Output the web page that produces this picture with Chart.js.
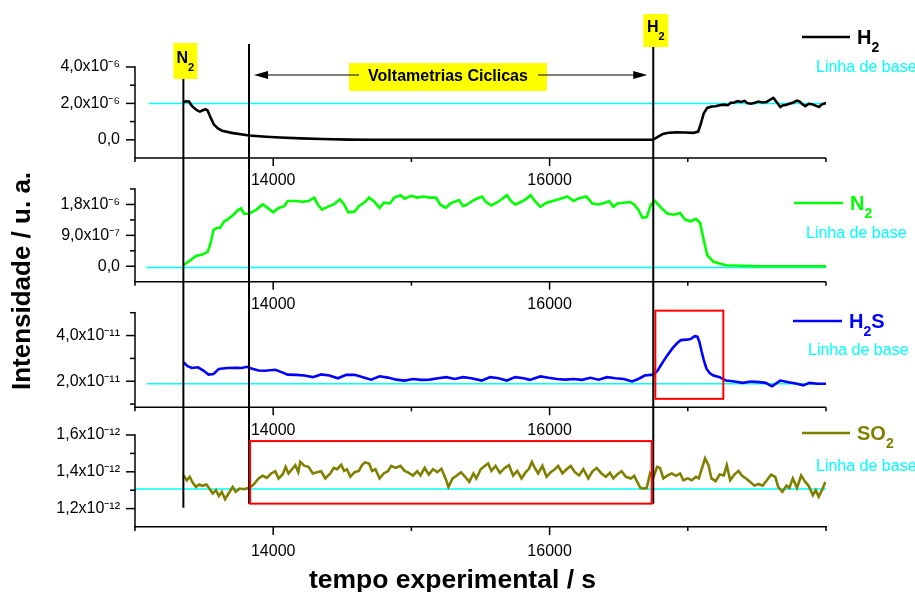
<!DOCTYPE html>
<html>
<head>
<meta charset="utf-8">
<script src="https://cdn.jsdelivr.net/npm/chart.js@4.4.0/dist/chart.umd.min.js"></script>
<style>
html,body{margin:0;padding:0;background:#ffffff;}
#wrap{width:915px;height:592px;position:relative;}
canvas{display:block;}
</style>
</head>
<body>
<div id="wrap"><canvas id="c" width="915" height="592"></canvas></div>
<script>
const FONT = '"Liberation Sans", Arial, Helvetica, sans-serif';

// ---------------- data ----------------
const h2Time = [13350,13370,13390,13410,13435,13450,13470,13490,13510,13525,13545,13570,13600,13630,13700,13825,13950,14050,14200,14350,14550,14700,15200,15700,16200,16748,16780,16820,16860,16920,16980,17040,17075,17095,17115,17140,17172,17200,17230,17260,17290,17310,17335,17360,17385,17410,17430,17455,17480,17510,17540,17570,17600,17620,17645,17670,17690,17710,17735,17760,17790,17810,17830,17850,17875,17900,17925,17950,17970,18000];
const h2Signal = [2.08e-6,2.12e-6,2.10e-6,1.88e-6,1.70e-6,1.62e-6,1.55e-6,1.62e-6,1.68e-6,1.62e-6,1.25e-6,0.85e-6,0.62e-6,0.50e-6,0.38e-6,0.24e-6,0.17e-6,0.13e-6,0.08e-6,0.04e-6,0.01e-6,0,0,0,0,0,0.15e-6,0.32e-6,0.39e-6,0.41e-6,0.40e-6,0.38e-6,0.45e-6,0.90e-6,1.45e-6,1.75e-6,1.83e-6,1.84e-6,1.90e-6,1.93e-6,1.90e-6,2.03e-6,2.05e-6,2.12e-6,2.08e-6,2.14e-6,2.02e-6,1.98e-6,2.02e-6,2.10e-6,2.05e-6,2.08e-6,2.22e-6,2.30e-6,2.05e-6,1.80e-6,1.90e-6,1.92e-6,1.98e-6,2.04e-6,2.15e-6,2.10e-6,1.95e-6,1.85e-6,1.98e-6,1.95e-6,1.88e-6,1.80e-6,1.95e-6,2.02e-6];

const n2Time = [13350,13396,13441,13486,13526,13547,13568,13592,13616,13646,13668,13713,13743,13767,13788,13825,13879,13924,13960,14000,14039,14081,14105,14166,14211,14256,14296,14323,14353,14392,14438,14483,14513,14543,14589,14619,14664,14694,14734,14770,14800,14845,14876,14921,14951,14996,15042,15087,15132,15178,15208,15247,15283,15344,15374,15404,15440,15464,15510,15540,15579,15615,15646,15691,15721,15751,15782,15827,15863,15893,15933,15978,16023,16068,16129,16174,16204,16265,16310,16355,16401,16431,16461,16491,16537,16582,16612,16642,16672,16703,16733,16763,16808,16854,16899,16944,16980,17020,17059,17089,17110,17141,17186,17276,17518,18000];
const n2Signal = [0.03e-6,0.16e-6,0.30e-6,0.34e-6,0.42e-6,0.67e-6,1.06e-6,1.11e-6,1.12e-6,1.31e-6,1.36e-6,1.50e-6,1.63e-6,1.69e-6,1.53e-6,1.53e-6,1.65e-6,1.80e-6,1.70e-6,1.57e-6,1.70e-6,1.75e-6,1.90e-6,1.90e-6,1.88e-6,1.90e-6,2.00e-6,1.80e-6,1.65e-6,1.73e-6,1.80e-6,1.95e-6,1.80e-6,1.57e-6,1.59e-6,1.75e-6,1.87e-6,2.00e-6,1.87e-6,1.70e-6,1.85e-6,1.83e-6,2.00e-6,2.07e-6,1.97e-6,2.05e-6,2.00e-6,2.03e-6,2.00e-6,2.00e-6,1.80e-6,1.70e-6,1.83e-6,1.93e-6,1.75e-6,1.80e-6,1.90e-6,1.95e-6,2.03e-6,1.87e-6,1.77e-6,1.85e-6,1.93e-6,2.07e-6,1.90e-6,1.80e-6,1.85e-6,1.95e-6,2.07e-6,1.90e-6,1.73e-6,1.85e-6,1.90e-6,1.95e-6,2.03e-6,1.90e-6,1.97e-6,2.03e-6,1.83e-6,1.80e-6,1.85e-6,1.90e-6,1.73e-6,1.83e-6,1.85e-6,1.87e-6,1.80e-6,1.65e-6,1.41e-6,1.43e-6,1.80e-6,1.90e-6,1.70e-6,1.53e-6,1.50e-6,1.55e-6,1.36e-6,1.31e-6,1.38e-6,1.26e-6,0.86e-6,0.32e-6,0.13e-6,0.03e-6,0,0];

const h2sTime = [13350,13381,13411,13456,13495,13532,13568,13607,13668,13728,13773,13809,13849,13894,13939,14015,14060,14105,14166,14226,14287,14347,14407,14468,14528,14589,14649,14709,14770,14830,14891,14951,15011,15072,15132,15193,15253,15313,15374,15434,15510,15570,15631,15691,15751,15812,15857,15933,15993,16053,16114,16174,16235,16295,16355,16416,16476,16537,16597,16642,16688,16748,16780,16810,16850,16890,16920,16950,16990,17020,17050,17070,17085,17100,17115,17135,17160,17186,17231,17276,17337,17397,17458,17518,17563,17609,17669,17729,17790,17835,17880,17941,18000];
const h2sSignal = [2.83e-11,2.66e-11,2.58e-11,2.61e-11,2.47e-11,2.29e-11,2.32e-11,2.54e-11,2.58e-11,2.59e-11,2.58e-11,2.63e-11,2.55e-11,2.47e-11,2.46e-11,2.50e-11,2.40e-11,2.29e-11,2.28e-11,2.25e-11,2.18e-11,2.30e-11,2.25e-11,2.13e-11,2.28e-11,2.28e-11,2.18e-11,2.07e-11,2.22e-11,2.16e-11,2.07e-11,2.03e-11,2.10e-11,2.06e-11,2.07e-11,2.13e-11,2.18e-11,2.10e-11,2.18e-11,2.13e-11,2.03e-11,2.18e-11,2.13e-11,2.03e-11,2.18e-11,2.13e-11,2.06e-11,2.21e-11,2.15e-11,2.10e-11,2.07e-11,2.10e-11,2.06e-11,2.15e-11,2.07e-11,2.18e-11,2.13e-11,2.10e-11,1.99e-11,2.10e-11,2.25e-11,2.29e-11,2.45e-11,2.75e-11,3.12e-11,3.45e-11,3.65e-11,3.80e-11,3.82e-11,3.85e-11,3.97e-11,3.95e-11,3.70e-11,3.30e-11,2.95e-11,2.55e-11,2.35e-11,2.25e-11,2.18e-11,2.03e-11,1.99e-11,1.93e-11,1.99e-11,1.96e-11,1.93e-11,1.78e-11,2.03e-11,1.96e-11,1.89e-11,1.82e-11,1.93e-11,1.89e-11,1.89e-11];

const so2Time = [13350,13375,13396,13417,13441,13465,13486,13517,13538,13562,13586,13607,13628,13652,13677,13707,13728,13758,13788,13825,13858,13894,13924,13954,13985,14015,14039,14069,14090,14111,14136,14160,14181,14196,14226,14256,14287,14317,14347,14377,14413,14438,14462,14492,14513,14534,14558,14589,14619,14643,14664,14694,14715,14740,14770,14800,14830,14854,14885,14921,14951,14981,15011,15042,15066,15096,15126,15156,15187,15217,15247,15268,15298,15329,15359,15389,15419,15449,15470,15501,15531,15555,15579,15609,15640,15676,15706,15736,15766,15797,15827,15851,15872,15893,15917,15948,15978,16008,16038,16062,16093,16123,16153,16183,16213,16244,16280,16310,16340,16376,16407,16437,16461,16491,16521,16552,16588,16612,16636,16657,16678,16703,16727,16748,16778,16799,16823,16854,16884,16914,16944,16968,16999,17029,17059,17080,17101,17125,17150,17171,17201,17231,17261,17282,17307,17337,17367,17391,17421,17452,17482,17512,17542,17572,17603,17633,17654,17684,17714,17735,17760,17790,17820,17850,17874,17905,17926,17947,17971,17995];
const so2Signal = [1.382e-12,1.354e-12,1.373e-12,1.342e-12,1.318e-12,1.331e-12,1.324e-12,1.331e-12,1.309e-12,1.282e-12,1.300e-12,1.269e-12,1.291e-12,1.251e-12,1.282e-12,1.318e-12,1.291e-12,1.309e-12,1.305e-12,1.313e-12,1.331e-12,1.364e-12,1.378e-12,1.367e-12,1.391e-12,1.403e-12,1.364e-12,1.387e-12,1.427e-12,1.391e-12,1.414e-12,1.436e-12,1.398e-12,1.454e-12,1.432e-12,1.427e-12,1.391e-12,1.398e-12,1.403e-12,1.364e-12,1.391e-12,1.421e-12,1.414e-12,1.438e-12,1.405e-12,1.414e-12,1.373e-12,1.398e-12,1.405e-12,1.436e-12,1.451e-12,1.445e-12,1.405e-12,1.414e-12,1.364e-12,1.391e-12,1.403e-12,1.432e-12,1.421e-12,1.432e-12,1.405e-12,1.394e-12,1.380e-12,1.403e-12,1.380e-12,1.421e-12,1.385e-12,1.414e-12,1.398e-12,1.416e-12,1.364e-12,1.318e-12,1.364e-12,1.380e-12,1.398e-12,1.373e-12,1.345e-12,1.391e-12,1.364e-12,1.414e-12,1.432e-12,1.445e-12,1.405e-12,1.432e-12,1.394e-12,1.421e-12,1.436e-12,1.380e-12,1.405e-12,1.364e-12,1.398e-12,1.416e-12,1.454e-12,1.421e-12,1.391e-12,1.432e-12,1.373e-12,1.398e-12,1.414e-12,1.432e-12,1.391e-12,1.414e-12,1.432e-12,1.398e-12,1.380e-12,1.414e-12,1.364e-12,1.403e-12,1.421e-12,1.391e-12,1.373e-12,1.394e-12,1.364e-12,1.387e-12,1.403e-12,1.373e-12,1.364e-12,1.378e-12,1.342e-12,1.313e-12,1.309e-12,1.313e-12,1.391e-12,1.364e-12,1.427e-12,1.421e-12,1.364e-12,1.380e-12,1.391e-12,1.378e-12,1.391e-12,1.354e-12,1.364e-12,1.354e-12,1.373e-12,1.364e-12,1.416e-12,1.473e-12,1.436e-12,1.364e-12,1.349e-12,1.385e-12,1.380e-12,1.436e-12,1.354e-12,1.385e-12,1.405e-12,1.380e-12,1.364e-12,1.345e-12,1.325e-12,1.334e-12,1.325e-12,1.354e-12,1.385e-12,1.373e-12,1.318e-12,1.291e-12,1.325e-12,1.313e-12,1.364e-12,1.313e-12,1.380e-12,1.345e-12,1.325e-12,1.273e-12,1.300e-12,1.265e-12,1.300e-12,1.345e-12];

// baselines ("Linha de base")
const baselineLevels = [2.0e-6, -0.04e-6, 1.89e-11, 1.307e-12];
const baselineStarts = [13100, 13080, 13085, 13000];
const baselineEnd = 18000;

// axes
const xTicks = [13000, 14000, 15000, 16000, 17000, 18000];
const xTickLabels = ['', '14000', '', '16000', '', ''];
const panelAxisIds = ['yH2', 'yN2', 'yH2S', 'ySO2'];
const panelTopValues = [4e-6, 2.25e-6, 5e-11, 1.6e-12];
const panelBottomValues = [-1e-6, -0.45e-6, 0.86e-11, 1.1e-12];
const axisMin = [-2.703e-6, -1.353e-6, -0.352e-11, 1.1e-12];
const axisMax = [4e-6, 2.25e-6, 5e-11, 1.6e-12];
const stackWeights = [122, 123.7, 122.3, 92];
const yTickValues = [
  [0, 1e-6, 2e-6, 3e-6, 4e-6],
  [0, 0.45e-6, 0.9e-6, 1.35e-6, 1.8e-6, 2.25e-6],
  [1e-11, 2e-11, 3e-11, 4e-11, 5e-11],
  [1.2e-12, 1.3e-12, 1.4e-12, 1.5e-12, 1.6e-12]
];
const yTickLabels = [
  ['0,0', '', '2,0x10\u207B\u2076', '', '4,0x10\u207B\u2076'],
  ['0,0', '', '9,0x10\u207B\u2077', '', '1,8x10\u207B\u2076', ''],
  ['', '2,0x10\u207B\u00B9\u00B9', '', '4,0x10\u207B\u00B9\u00B9', ''],
  ['1,2x10\u207B\u00B9\u00B2', '', '1,4x10\u207B\u00B9\u00B2', '', '1,6x10\u207B\u00B9\u00B2']
];

// annotations
const markerTimes = [13350, 13825, 16750];
const markerTopH2 = [3.56e-6, 5.26e-6, 5.32e-6];
const markerBottomSO2 = [1.205e-12, 1.227e-12, 1.227e-12];
const highlightBoxes = [
  {axis: 'yH2S', x0: 16765, x1: 17257, y0: 1.23e-11, y1: 5.09e-11},
  {axis: 'ySO2', x0: 13833, x1: 16739, y0: 1.227e-12, y1: 1.567e-12}
];

const series = [
  {name: 'H2', time: h2Time, values: h2Signal, color: '#000000', axis: 'yH2'},
  {name: 'N2', time: n2Time, values: n2Signal, color: '#00FF00', axis: 'yN2'},
  {name: 'H2S', time: h2sTime, values: h2sSignal, color: '#0000FF', axis: 'yH2S'},
  {name: 'SO2', time: so2Time, values: so2Signal, color: '#808000', axis: 'ySO2'}
];

const legendItems = [
  {parts: [['H', 0], ['2', 1]], color: '#000000', lx: [802, 850], ly: 37, tx: 857, bx: 816, by: 68},
  {parts: [['N', 0], ['2', 1]], color: '#00FF00', lx: [794, 843], ly: 203, tx: 850, bx: 806, by: 234},
  {parts: [['H', 0], ['2', 1], ['S', 0]], color: '#0000FF', lx: [793, 842], ly: 321, tx: 849, bx: 808, by: 351},
  {parts: [['SO', 0], ['2', 1]], color: '#808000', lx: [802, 850], ly: 433, tx: 857, bx: 816, by: 467}
];

// ---------------- helpers ----------------
function drawChem(ctx, parts, x, y, size, subSize, subDy, color, align) {
  ctx.fillStyle = color;
  ctx.textBaseline = 'middle';
  ctx.textAlign = 'left';
  const mf = 'bold ' + size + 'px ' + FONT;
  const sf = 'bold ' + subSize + 'px ' + FONT;
  let total = 0;
  parts.forEach(p => { ctx.font = p[1] ? sf : mf; total += ctx.measureText(p[0]).width; });
  let cx = align === 'center' ? x - total / 2 : x;
  parts.forEach(p => {
    ctx.font = p[1] ? sf : mf;
    ctx.fillText(p[0], cx, p[1] ? y + subDy : y);
    cx += ctx.measureText(p[0]).width;
  });
}

function arrow(ctx, x0, x1, y) {
  const dir = Math.sign(x1 - x0);
  ctx.beginPath(); ctx.moveTo(x0, y); ctx.lineTo(x1 - dir * 10, y); ctx.stroke();
  ctx.beginPath();
  ctx.moveTo(x1, y); ctx.lineTo(x1 - dir * 14, y - 4); ctx.lineTo(x1 - dir * 14, y + 4); ctx.closePath();
  ctx.fill();
}

const decorPlugin = {
  id: 'decor',
  afterDatasetsDraw(chart) {
    const ctx = chart.ctx;
    const xs = chart.scales.x;
    const area = chart.chartArea;
    ctx.save();
    ctx.strokeStyle = '#000';
    ctx.fillStyle = '#000';
    ctx.lineWidth = 1.5;
    ctx.lineCap = 'butt';

    // panel frames, inner x axes, tick marks
    panelAxisIds.forEach((id, i) => {
      const ys = chart.scales[id];
      const top = ys.getPixelForValue(panelTopValues[i]);
      const bot = ys.getPixelForValue(panelBottomValues[i]);
      ctx.beginPath(); ctx.moveTo(area.left, top - 0.75); ctx.lineTo(area.left, bot); ctx.stroke();
      yTickValues[i].forEach((v, k) => {
        const py = ys.getPixelForValue(v);
        const len = yTickLabels[i][k] ? 9 : 5;
        ctx.beginPath(); ctx.moveTo(area.left - len, py); ctx.lineTo(area.left, py); ctx.stroke();
      });
      if (i < panelAxisIds.length - 1) {
        ctx.beginPath(); ctx.moveTo(area.left - 0.75, bot); ctx.lineTo(area.right, bot); ctx.stroke();
      }
      xTicks.forEach((v, k) => {
        const px = xs.getPixelForValue(v);
        const len = xTickLabels[k] ? 8 : 4;
        ctx.beginPath(); ctx.moveTo(px, bot); ctx.lineTo(px, bot + len); ctx.stroke();
        if (i < panelAxisIds.length - 1 && xTickLabels[k]) {
          ctx.font = '16px ' + FONT;
          ctx.textAlign = 'center';
          ctx.textBaseline = 'middle';
          ctx.fillText(xTickLabels[k], px, bot + 23);
        }
      });
    });

    // vertical event lines
    const yTop = chart.scales.yH2, yBot = chart.scales.ySO2;
    ctx.lineWidth = 2;
    markerTimes.forEach((t, i) => {
      const px = xs.getPixelForValue(t);
      ctx.beginPath();
      ctx.moveTo(px, yTop.getPixelForValue(markerTopH2[i]));
      ctx.lineTo(px, yBot.getPixelForValue(markerBottomSO2[i]));
      ctx.stroke();
    });

    // red highlight boxes
    ctx.strokeStyle = '#FF0000';
    ctx.lineWidth = 2;
    highlightBoxes.forEach(b => {
      const ys = chart.scales[b.axis];
      const x0 = xs.getPixelForValue(b.x0), x1 = xs.getPixelForValue(b.x1);
      const y0 = ys.getPixelForValue(b.y1), y1 = ys.getPixelForValue(b.y0);
      ctx.strokeRect(x0, y0, x1 - x0, y1 - y0);
    });

    // yellow event labels
    const pN2 = xs.getPixelForValue(markerTimes[0]);
    const pVC = xs.getPixelForValue(markerTimes[1]);
    const pH2 = xs.getPixelForValue(markerTimes[2]);
    ctx.fillStyle = '#FFFF00';
    ctx.fillRect(pN2 - 10, 43, 24, 36);
    ctx.fillRect(pH2 - 10, 14, 25, 33);
    drawChem(ctx, [['N', 0], ['2', 1]], pN2 + 2, 59, 16, 11, 9, '#000', 'center');
    drawChem(ctx, [['H', 0], ['2', 1]], pH2 + 2.5, 28, 16, 11, 9, '#000', 'center');

    // Voltametrias Ciclicas label with arrows
    const boxX = 349, boxW = 198;
    ctx.fillStyle = '#FFFF00';
    ctx.fillRect(boxX, 63, boxW, 28);
    ctx.fillStyle = '#000';
    ctx.font = 'bold 16px ' + FONT;
    ctx.textAlign = 'center';
    ctx.textBaseline = 'middle';
    ctx.fillText('Voltametrias Ciclicas', boxX + boxW / 2, 77);
    ctx.strokeStyle = '#000';
    ctx.lineWidth = 1.2;
    arrow(ctx, boxX + 10, pVC + 5, 75);
    arrow(ctx, boxX + boxW - 9, pH2 - 6, 75);

    // legend
    legendItems.forEach(it => {
      ctx.strokeStyle = it.color;
      ctx.lineWidth = 2.5;
      ctx.beginPath(); ctx.moveTo(it.lx[0], it.ly); ctx.lineTo(it.lx[1], it.ly); ctx.stroke();
      drawChem(ctx, it.parts, it.tx, it.ly + 1, 20, 14, 10, it.color, 'left');
      ctx.fillStyle = '#00FFFF';
      ctx.font = '16px ' + FONT;
      ctx.textAlign = 'left';
      ctx.textBaseline = 'middle';
      ctx.fillText('Linha de base', it.bx, it.by);
    });

    // axis titles
    ctx.fillStyle = '#000';
    ctx.font = 'bold 26px ' + FONT;
    ctx.textAlign = 'center';
    ctx.textBaseline = 'middle';
    ctx.save();
    ctx.translate(23, 281);
    ctx.rotate(-Math.PI / 2);
    ctx.fillText('Intensidade / u. a.', 0, 0);
    ctx.restore();
    ctx.font = 'bold 26.5px ' + FONT;
    ctx.textBaseline = 'alphabetic';
    ctx.fillText('tempo experimental / s', (area.left + area.right) / 2 - 28, 588);

    ctx.restore();
  }
};

// ---------------- chart ----------------
const datasets = [];
series.forEach(s => {
  datasets.push({
    label: s.name,
    data: s.time.map((t, i) => ({x: t, y: s.values[i]})),
    borderColor: s.color,
    borderWidth: 2.6,
    pointRadius: 0,
    tension: 0,
    fill: false,
    yAxisID: s.axis,
    xAxisID: 'x',
    order: 1
  });
});
panelAxisIds.forEach((id, i) => {
  datasets.push({
    label: 'Linha de base',
    data: [{x: baselineStarts[i], y: baselineLevels[i]}, {x: baselineEnd, y: baselineLevels[i]}],
    borderColor: '#00FFFF',
    borderWidth: 1.5,
    pointRadius: 0,
    fill: false,
    yAxisID: id,
    xAxisID: 'x',
    order: 2
  });
});

const scales = {
  x: {
    type: 'linear', position: 'bottom', min: 13000, max: 18000,
    border: {display: true, color: '#000', width: 1.5},
    grid: {display: false, drawTicks: false},
    afterBuildTicks: s => { s.ticks = xTicks.map(v => ({value: v})); },
    ticks: {autoSkip: false, maxRotation: 0, padding: 15, color: '#000',
      font: {size: 16, family: FONT}, callback: (v, i) => xTickLabels[i]},
    afterFit: s => { s.height = 65; }
  }
};
panelAxisIds.forEach((id, i) => {
  scales[id] = {
    type: 'linear', position: 'left', stack: 'panels', stackWeight: stackWeights[i],
    weight: panelAxisIds.length - i,
    min: axisMin[i], max: axisMax[i],
    border: {display: false},
    grid: {display: false, drawTicks: false},
    afterBuildTicks: s => { s.ticks = yTickValues[i].map(v => ({value: v})); },
    ticks: {autoSkip: false, padding: 15, color: '#000',
      font: {size: 16, family: FONT}, callback: (v, k) => yTickLabels[i][k]},
    afterFit: s => { s.width = 135; }
  };
});

new Chart(document.getElementById('c'), {
  type: 'line',
  data: {datasets},
  options: {
    responsive: false,
    maintainAspectRatio: false,
    devicePixelRatio: 1,
    animation: false,
    layout: {padding: {top: 67, right: 89, bottom: 0, left: 0}},
    plugins: {legend: {display: false}, tooltip: {enabled: false}, title: {display: false}},
    scales
  },
  plugins: [decorPlugin]
});
</script>
</body>
</html>
